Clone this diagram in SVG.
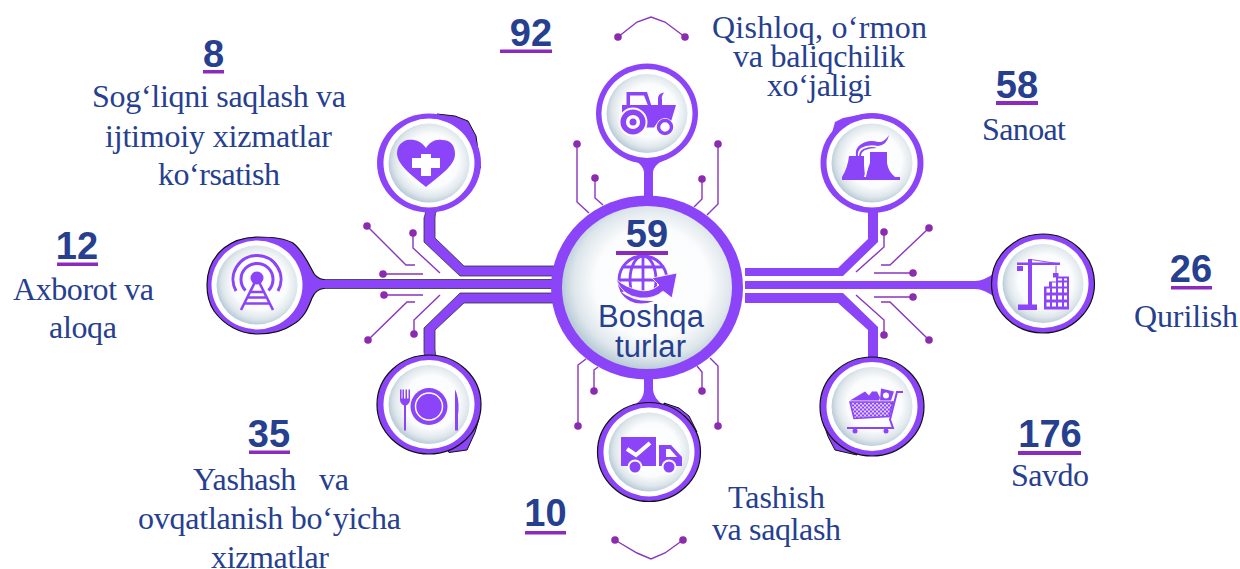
<svg xmlns="http://www.w3.org/2000/svg" width="1240" height="569" viewBox="0 0 1240 569">
<style>
.num{font-family:"Liberation Sans",Arial,sans-serif;font-weight:700;font-size:38px;fill:#26408f;text-anchor:middle}
.lab{font-family:"Liberation Serif","Times New Roman",serif;font-size:32px;fill:#26408f;white-space:pre}
.bos{font-family:"Liberation Sans",Arial,sans-serif;font-size:31px;fill:#26408f;text-anchor:middle}
.ul{fill:#8a2bbd}
.p{fill:#8b44f7}
.pl{fill:none;stroke:#8b44f7}
.w{fill:#fff}
.ring{fill:#8b44f7}
.ringk{fill:#8b44f7;stroke:#111;stroke-width:1.2}
.blob{fill:#8b44f7;stroke:#111;stroke-width:1}
.bar{fill:#8b44f7}
.bark{fill:#8b44f7;stroke:#333;stroke-width:.8}
.tr{fill:none;stroke:#8a35bd;stroke-width:1.4}
.d{fill:#8a2bb0}
</style>
<defs>
<radialGradient id="disc" cx=".53" cy=".47" r=".54">
<stop offset="0" stop-color="#fff"/><stop offset=".62" stop-color="#fbfcfd"/><stop offset=".85" stop-color="#dfe7ec"/><stop offset="1" stop-color="#b7cad6"/>
</radialGradient>
<pattern id="mesh" width="4" height="4" patternUnits="userSpaceOnUse"><rect width="4" height="4" fill="#8b44f7"/><circle cx="1" cy="1" r="1" fill="#fff"/><circle cx="3" cy="3" r="1" fill="#fff"/></pattern>
<clipPath id="globeclip"><rect x="610" y="250" width="70" height="42"/></clipPath>
<g id="face"><ellipse rx="45.500" ry="44.500" fill="#fff"/><ellipse rx="40.500" ry="39.500" fill="url(#disc)"/></g>
</defs>
<g id="connectors">
<path class="bar" d="M745 268H838L868 239V211H878V242L843 276H745Z"/>
<path class="bar" d="M745 281H975Q984 281 996 272V298Q984 289 975 289H745Z"/>
<path class="bar" d="M745 293H843L878 327V359H868V330L838 303H745Z"/>
<path class="bark" d="M426 210Q425 215 424 218V242L460 276H556V266H464L435 238V218Q435 213 437 210Z"/>
<path class="bark" d="M556 279.500H322V288.500H556Z"/>
<path class="bark" d="M556 293H460L424 328V352Q425 356 424 358H437Q435 354 435 350V330L464 303H556Z"/>
<path class="bar" d="M644 161H653V198H644Z"/><path class="bar" d="M634 160H664Q654 165 653 172V175H644V172Q643 165 634 160Z"/>
<path class="bar" d="M644 376H653V390Q654 398 662 404H636Q644 398 644 390Z"/>
<g id="traces">
<path class="tr" d="M367 226L406 265H415M413 233V248L440 273M383 274H423"/>
<path class="tr" d="M384 295H423M368 340L407 302H415M414 334V320L440 295"/>
<path class="tr" d="M884 232V247L856 272M929 228L890 265H881M913 273H874"/>
<path class="tr" d="M913 297H874M929 340L890 302H881M884 335V320L856 295"/>
<path class="tr" d="M577 144V202L589 213M595 178V198L603 205M718 144V204L707 215M702 179V199L694 207"/>
<path class="tr" d="M578 426V365L586 359M594 391V370L598 367M702 391V372L697 366M718 426V366L710 358"/>
<path class="tr" d="M618 37L637 22L651 17L665 22L685 37"/>
<path class="tr" d="M615 540L637 553L651 559L665 553L683 540"/>
<g class="d">
<circle cx="367" cy="226" r="3.800"/><circle cx="413" cy="233" r="3.800"/><circle cx="383" cy="274" r="3.800"/><circle cx="384" cy="295" r="3.800"/><circle cx="368" cy="340" r="3.800"/><circle cx="414" cy="334" r="3.800"/>
<circle cx="884" cy="232" r="3.800"/><circle cx="929" cy="228" r="3.800"/><circle cx="913" cy="273" r="3.800"/><circle cx="913" cy="297" r="3.800"/><circle cx="929" cy="340" r="3.800"/><circle cx="884" cy="335" r="3.800"/>
<circle cx="577" cy="144" r="3.800"/><circle cx="595" cy="178" r="3.800"/><circle cx="718" cy="144" r="3.800"/><circle cx="702" cy="179" r="3.800"/>
<circle cx="578" cy="426" r="3.800"/><circle cx="594" cy="391" r="3.800"/><circle cx="702" cy="391" r="3.800"/><circle cx="718" cy="426" r="3.800"/>
<circle cx="618" cy="37" r="3.800"/><circle cx="685" cy="37" r="3.800"/><circle cx="615" cy="540" r="3.800"/><circle cx="683" cy="540" r="3.800"/>
</g>
</g>
</g>
<g id="node-center">
<ellipse class="ring" cx="647" cy="287.500" rx="96" ry="92"/>
<ellipse cx="647" cy="287.500" rx="85" ry="81.500" fill="url(#disc)"/>
<g fill="none" stroke="#8b44f7" stroke-width="2.800" clip-path="url(#globeclip)">
<circle cx="643" cy="280" r="24"/><ellipse cx="643" cy="280" rx="13" ry="24"/><path d="M643 256V304M624 267H662M619 280H667"/>
</g>
<path class="p" stroke="#fff" stroke-width=".8" d="M616 279Q622 296 640 298Q655 299 663 291L672 298L677 273L652 278L659 285Q650 293 638 290Q625 287 616 279Z"/>
<path class="p" d="M620 291Q632 302 654 301Q640 306 630 301Q623 297 620 291Z"/>
<text class="bos" x="651" y="327" textLength="106">Boshqa</text>
<text class="bos" x="650.500" y="357" textLength="71">turlar</text>
</g>
<g id="node-tractor" transform="translate(647 113.500)">
<ellipse class="ring" rx="51" ry="50"/><use href="#face"/>
<path class="p" fill-rule="evenodd" d="M-20.500 -21.500H0L5 -6H-20.500ZM-17 -18V-8H1L-3 -18Z"/>
<path class="p" d="M-25 -8.500H11V-15Q11 -20 17 -21Q14 -17 15 -14V-8.500H29L24 8Q18 6 13 8Q9 10 7 14H-1Q-3 2 -13 0Q-21 -1 -25 0Z"/>
<circle cx="-14" cy="8.500" r="14.500" class="w"/>
<circle cx="-14" cy="8.500" r="9.800" fill="none" stroke="#8b44f7" stroke-width="5.500"/><circle cx="-14" cy="8.500" r="3.500" class="p"/>
<circle cx="18" cy="13.500" r="9" class="w"/>
<circle cx="18" cy="13.500" r="6.500" fill="none" stroke="#8b44f7" stroke-width="3.500"/>
</g>
<g id="node-health" transform="translate(429 163)">
<path class="blob" d="M8 -49L26 -47L39 -42L47 -27L51.500 5L30 0Z"/>
<ellipse class="ring" rx="52" ry="49.500"/><use href="#face"/>
<path class="p" d="M-3 -15C-8 -22 -14 -24 -22 -23C-28 -21 -32 -17 -32 -9C-31 3 -15 14 -3 24C9 14 26 3 26 -9C26 -17 22 -23 13 -23C6 -24 1 -21 -3 -15Z"/>
<path class="w" d="M-8 -9H2V-5H11V5H2V13H-8V5H-17V-5H-8Z"/>
</g>
<g id="node-tower">
<path class="ringk" d="M258 237C272 237 284 238 293 243C302 250 308 262 312 270Q316 279 324 279.500V288.500Q316 289 312 298C308 308 304 319 292 325C282 332 270 334 258 334C240 334 224 325 214 311C208 302 207 292 207 285C207 272 212 258 224 248C234 240 246 237 258 237Z"/>
<rect class="p" x="318" y="280" width="10" height="8"/>
<use href="#face" transform="translate(257 285)"/>
<circle class="p" cx="257" cy="278" r="6.500"/>
<g class="pl" stroke-width="3">
<path d="M245.500 290.500A16 16 0 1 1 268.500 290.500"/><path d="M236 291A24 24 0 1 1 278 291"/>
<path d="M255 282L241 310M259 282L273 310M250 292H264M248 297.500H266M245 303.500H269" stroke-width="2.600"/>
</g>
</g>
<g id="node-food" transform="translate(429 404.500)">
<path class="blob" d="M50 14L46 28L38 45.500L20 48L10 30Z"/>
<ellipse class="ringk" rx="52" ry="49.500"/><use href="#face"/>
<circle class="p" cy="2" r="18.500"/><circle cy="2" r="13.500" fill="none" stroke="#fff" stroke-width="1.500"/>
<path class="p" d="M-29 -15V-5Q-29 -1 -25 1V26H-23V1Q-19 -1 -19 -5V-15H-20.500V-6H-22V-15H-23.500V-6H-25V-15H-26.500V-6H-27.500V-15Z"/>
<path class="p" d="M26 -15Q30 -8 29.500 6L29 10V26H26Z"/>
</g>
<g id="node-truck" transform="translate(649 452)">
<path class="blob" d="M15 -49L30 -44L40 -36L48 -20L20 -20Z"/>
<ellipse class="ringk" rx="51.500" ry="49.500"/><use href="#face"/>
<path class="p" d="M-28 -15H7V14H-28Z"/>
<path class="p" d="M10 -7H22L33 5V14H10Z"/>
<path class="w" d="M17 -3H21L28 5H17Z"/>
<circle cx="-14" cy="15" r="7.500" class="w"/><circle cx="-14" cy="15" r="5.500" class="p"/>
<circle cx="20" cy="15" r="7.500" class="w"/><circle cx="20" cy="15" r="5.500" class="p"/>
<path d="M-22 -3L-13 3L1 -9" fill="none" stroke="#fff" stroke-width="4"/>
</g>
<g id="node-industry" transform="translate(872 163)">
<path class="p" d="M-40 -30L-37 -41L-29 -45L-8 -49L0 -30Z"/>
<ellipse class="ring" rx="51.500" ry="50"/><use href="#face"/>
<path class="p" d="M-23 -7H-8V2L-7 14H-30Q-24 4 -23 -7Z"/>
<path class="p" d="M-2 -11H15V0Q16 8 23 14H-7L-2 0Z"/>
<path class="p" d="M-30 14H28V17H-30Z"/>
<path class="w" d="M-5 -6L-3 -6L-4 4L-6 14L-8 14L-5 4Z"/>
<path class="p" d="M-16 -6Q-17 -15 -12 -18Q-4 -24 6 -21Q12 -20 17 -28Q15 -18 6 -17Q-4 -19 -11 -15Q-15 -12 -14 -6Z"/>
<path class="p" d="M-13 -7Q-13 -13 -6 -15Q0 -17 5 -15Q-2 -15 -7 -13Q-11 -11 -11 -7Z"/>
</g>
<g id="node-construction" transform="translate(1043 283.500)">
<path class="p" d="M-42 -20L-40 -30L-30 -40L-12 -47L-20 -20Z"/>
<ellipse class="ringk" rx="51.500" ry="49.500"/><use href="#face"/>
<path class="p" d="M-15 -24.500H-11V-21H17V-18.500H-11V21H-6V26.500H-25V21H-15V-18.500H-26V-21H-15Z"/>
<path class="p" d="M-26 -17.500H-20V-12.500H-26ZM10 -10.500H15.500V-6H10Z"/>
<path d="M-12 -24L17 -19.500M13 -18V-10" stroke="#8b44f7" fill="none" stroke-width=".9"/>
<path class="p" d="M1 3H6V-2H13V-7H26V26H1Z"/>
<path class="w" d="M3.500 5H7V9H3.500ZM9 5H13V9H9ZM15 5H19V9H15ZM21 5H24V9H21ZM3.500 12H7V16H3.500ZM9 12H13V16H9ZM15 12H19V16H15ZM21 12H24V16H21ZM3.500 19H7V23H3.500ZM9 19H13V23H9ZM15 19H19V23H15ZM21 19H24V23H21ZM9 -1H13V3H9ZM15 -1H19V3H15ZM21 -1H24V3H21ZM15 -5H19V-3H15ZM21 -5H24V-3H21Z"/>
</g>
<g id="node-trade" transform="translate(872 406.500)">
<path class="blob" d="M-49 15L-44 30L-37 43.500L-15 48.500L-20 20Z"/>
<ellipse class="ringk" rx="52" ry="49.500"/><use href="#face"/>
<path fill="url(#mesh)" stroke="#8b44f7" stroke-width="1.500" d="M-22 -4.500H21L17 10L-18 12Z"/>
<path class="pl" stroke-width="2" d="M31 -14.500H25L18 13L21 21.500H-25"/>
<path class="p" d="M-22 -6L-12 -12L-7 -15L-3 -11L0 -15L5 -15L8 -9L7 -6Z"/>
<path class="p" d="M9 -18L22 -15L19 -6H8Z"/><circle class="w" cx="14" cy="-11" r="3"/>
<circle class="p" cx="-17" cy="24.500" r="2.500"/><circle class="p" cx="14" cy="24.500" r="2.500"/>
</g>
<g id="labels">
<text class="num" x="531" y="46">92</text><rect class="ul" x="500" y="49.500" width="52" height="3.500"/>
<text class="num" x="213.500" y="67">8</text><rect class="ul" x="203" y="70" width="21" height="3.500"/>
<text class="num" x="77" y="259">12</text><rect class="ul" x="57" y="262.500" width="41" height="3.500"/>
<text class="num" x="269" y="447">35</text><rect class="ul" x="249" y="450.500" width="41" height="3.500"/>
<text class="num" x="545.500" y="526">10</text><rect class="ul" x="525" y="531" width="41" height="3.500"/>
<text class="num" x="647" y="247">59</text><rect class="ul" x="616" y="251" width="52" height="4"/>
<text class="num" x="1017" y="98">58</text><rect class="ul" x="996" y="101" width="42" height="4"/>
<text class="num" x="1191" y="282">26</text><rect class="ul" x="1171" y="286" width="41" height="3.500"/>
<text class="num" x="1050" y="447">176</text><rect class="ul" x="1018" y="451" width="63" height="4"/>
<text class="lab" x="712" y="38" textLength="215">Qishloq, o‘rmon</text>
<text class="lab" x="733" y="67" textLength="172">va baliqchilik</text>
<text class="lab" x="767" y="96" textLength="105">xo‘jaligi</text>
<text class="lab" x="92" y="107" textLength="254">Sog‘liqni saqlash va</text>
<text class="lab" x="105" y="147" textLength="227">ijtimoiy xizmatlar</text>
<text class="lab" x="158" y="185" textLength="122">ko‘rsatish</text>
<text class="lab" x="13" y="300" textLength="141">Axborot va</text>
<text class="lab" x="49" y="338" textLength="68">aloqa</text>
<text class="lab" x="193" y="490" textLength="156">Yashash   va</text>
<text class="lab" x="138" y="529" textLength="263">ovqatlanish bo‘yicha</text>
<text class="lab" x="211" y="568" textLength="118">xizmatlar</text>
<text class="lab" x="728" y="508" textLength="97">Tashish</text>
<text class="lab" x="712" y="540" textLength="129">va saqlash</text>
<text class="lab" x="982" y="140" textLength="84">Sanoat</text>
<text class="lab" x="1134" y="327" textLength="104">Qurilish</text>
<text class="lab" x="1011" y="486" textLength="78">Savdo</text>
</g>
</svg>
